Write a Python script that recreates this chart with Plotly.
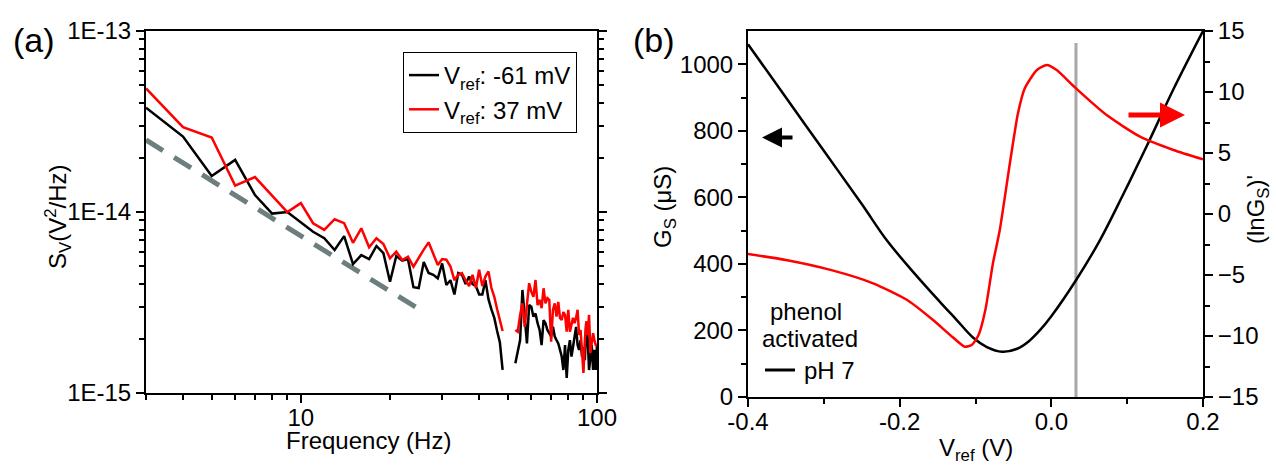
import plotly.graph_objects as go

# ---------------- data: panel (a) noise spectra ----------------
freq_low = list(range(3, 49))
freq_high = list(range(53, 101))

black_low = [3.77e-14, 2.61e-14, 1.58e-14, 1.94e-14, 1.24e-14, 9.8e-15, 1.0e-14, 8.8e-15,
             7.78e-15, 7.16e-15, 6.17e-15, 7.36e-15, 5.16e-15, 5.78e-15, 5.49e-15, 6.49e-15,
             5.92e-15, 4.12e-15, 5.71e-15, 5.38e-15, 5.49e-15, 3.84e-15, 3.8e-15, 5.3e-15,
             4.6e-15, 4.5e-15, 4.3e-15, 5.2e-15, 3.95e-15, 4.2e-15, 3.5e-15, 4.6e-15,
             4.5e-15, 4.0e-15, 4.4e-15, 4.0e-15, 3.9e-15, 3.5e-15, 3.5e-15, 4.2e-15,
             3.3e-15, 2.9e-15, 2.6e-15, 2.2e-15, 1.9e-15, 1.34e-15]
red_low = [4.82e-14, 2.94e-14, 2.58e-14, 1.40e-14, 1.56e-14, 1.23e-14, 1.0e-14, 1.12e-14,
           8.67e-15, 7.96e-15, 9.12e-15, 8.67e-15, 6.76e-15, 8.13e-15, 6.38e-15, 7.16e-15,
           6.65e-15, 5.55e-15, 6.04e-15, 5.43e-15, 5.66e-15, 4.99e-15, 5.6e-15, 6.2e-15,
           6.8e-15, 5.9e-15, 5.1e-15, 5.5e-15, 5.45e-15, 5.0e-15, 4.2e-15, 4.5e-15,
           4.6e-15, 4.2e-15, 3.9e-15, 4.5e-15, 3.8e-15, 4.8e-15, 3.9e-15, 4.4e-15,
           4.7e-15, 3.8e-15, 3.4e-15, 2.9e-15, 2.5e-15, 2.2e-15]
black_high = [1.46e-15, 1.73e-15, 1.96e-15, 3.71e-15, 2.53e-15, 1.88e-15, 3.06e-15, 3.00e-15,
              2.64e-15, 2.75e-15, 2.43e-15, 2.23e-15, 1.84e-15, 2.53e-15, 2.43e-15, 2.23e-15,
              2.14e-15, 2.05e-15, 2.32e-15, 2.05e-15, 1.96e-15, 1.88e-15, 1.73e-15, 1.59e-15,
              1.34e-15, 1.84e-15, 1.21e-15, 1.73e-15, 1.96e-15, 1.59e-15, 1.80e-15, 2.05e-15,
              2.32e-15, 1.84e-15, 1.73e-15, 1.96e-15, 1.59e-15, 1.80e-15, 1.52e-15, 2.48e-15,
              2.00e-15, 1.34e-15, 1.60e-15, 1.84e-15, 1.34e-15, 1.73e-15, 1.34e-15, 1.84e-15]
red_high = [2.23e-15, 2.18e-15, 2.70e-15, 3.13e-15, 2.32e-15, 3.06e-15, 4.04e-15, 3.63e-15,
            3.40e-15, 4.21e-15, 3.06e-15, 3.27e-15, 2.94e-15, 3.79e-15, 3.13e-15, 3.34e-15,
            3.27e-15, 1.92e-15, 2.88e-15, 3.13e-15, 2.64e-15, 3.19e-15, 2.60e-15, 2.53e-15,
            2.80e-15, 2.70e-15, 2.18e-15, 2.88e-15, 2.18e-15, 2.38e-15, 2.60e-15, 2.43e-15,
            2.60e-15, 2.88e-15, 2.09e-15, 2.23e-15, 1.73e-15, 1.29e-15, 1.96e-15, 2.48e-15,
            2.09e-15, 2.70e-15, 1.66e-15, 1.96e-15, 2.14e-15, 1.96e-15, 1.84e-15, 1.84e-15]

fit_freq = [3, 26]
fit_val = [2.5e-14, 2.8e-15]

legend_names = ["V<sub>ref</sub>: -61 mV", "V<sub>ref</sub>: 37 mV"]

# ---------------- data: panel (b) transfer curve ----------------
v_g = [-0.40, -0.35, -0.30, -0.25, -0.217, -0.18, -0.147, -0.125, -0.103, -0.085, -0.065,
       -0.045, -0.03, -0.015, 0.0, 0.0325, 0.064, 0.095, 0.126, 0.161, 0.20]
g_s = [1060, 900, 740, 580, 471, 370, 286, 232, 178, 150, 136,
       145, 167, 201, 243, 351, 471, 610, 755, 925, 1100]

v_r = [-0.40, -0.35, -0.29, -0.235, -0.19, -0.156, -0.13, -0.114, -0.105, -0.096,
       -0.087, -0.077, -0.068, -0.054, -0.044, -0.035, -0.019, -0.006, 0.007, 0.0325,
       0.073, 0.117, 0.161, 0.20]
dlng = [-3.28, -3.77, -4.6, -5.68, -7.05, -8.69, -10.1, -10.88, -10.74, -9.92,
        -7.87, -4.04, -1.31, 4.43, 8.25, 10.3, 11.8, 12.21, 11.8, 10.3,
        8.11, 6.34, 5.25, 4.48]

v_mark = 0.0325

W, H = 1276, 469
FONT = "Arial, 'Liberation Sans', sans-serif"


def px(x):
    return x / W


def py(y):
    return 1 - y / H


freq_all = freq_low + [None] + freq_high
black_all = black_low + [None] + black_high
red_all = red_low + [None] + red_high

fig = go.Figure()

fig.add_trace(go.Scatter(x=fit_freq, y=fit_val, mode="lines", showlegend=False,
                         line=dict(color="#6d7e7e", width=5, dash="20px,13px"),
                         xaxis="x", yaxis="y"))
fig.add_trace(go.Scatter(x=freq_all, y=black_all, mode="lines", name=legend_names[0],
                         line=dict(color="black", width=2.5), connectgaps=False,
                         xaxis="x", yaxis="y"))
fig.add_trace(go.Scatter(x=freq_all, y=red_all, mode="lines", name=legend_names[1],
                         line=dict(color="#ff0000", width=2.5), connectgaps=False,
                         xaxis="x", yaxis="y"))

fig.add_trace(go.Scatter(x=v_g, y=g_s, mode="lines", showlegend=False,
                         line=dict(color="black", width=2.5, shape="spline", smoothing=1.0),
                         xaxis="x2", yaxis="y2"))
fig.add_trace(go.Scatter(x=v_r, y=dlng, mode="lines", showlegend=False,
                         line=dict(color="#ff0000", width=2.5, shape="spline", smoothing=0.6),
                         xaxis="x2", yaxis="y3"))

tickfont = dict(family=FONT, size=24, color="black")
common = dict(showgrid=False, zeroline=False, showline=True, linecolor="black", linewidth=2,
              ticks="outside", tickwidth=2, tickcolor="black", ticklen=8, tickfont=tickfont,
              automargin=False)

minor_y_a = [m * 10.0 ** e for e in (-15, -14) for m in range(2, 10)]
minor_x_a = [3, 4, 5, 6, 7, 8, 9, 20, 30, 40, 50, 60, 70, 80, 90]

fig.update_layout(
    width=W, height=H, margin=dict(l=0, r=0, t=0, b=0, autoexpand=False), autosize=False,
    paper_bgcolor="white", plot_bgcolor="white",
    font=dict(family=FONT, size=24, color="black"),
    xaxis=dict(domain=[px(146), px(597)], anchor="y", type="log",
               range=[0.4771, 2], tickmode="array", tickvals=[10, 100], ticktext=["10", "100"],
               mirror=True, ticklabelstandoff=-6,
               minor=dict(tickmode="array", tickvals=minor_x_a, ticks="outside", ticklen=5,
                          tickwidth=2, tickcolor="black"),
               **common),
    yaxis=dict(domain=[py(393), py(31)], anchor="x", type="log",
               range=[-15, -13], tickmode="array", tickvals=[1e-15, 1e-14, 1e-13],
               ticktext=["1E-15", "1E-14", "1E-13"], mirror="ticks",
               minor=dict(tickmode="array", tickvals=minor_y_a, ticks="outside", ticklen=5,
                          tickwidth=2, tickcolor="black"),
               **common),
    xaxis2=dict(domain=[px(748), px(1203)], anchor="y2", range=[-0.4, 0.2],
                tickmode="array", tickvals=[-0.4, -0.2, 0.0, 0.2],
                ticktext=["-0.4", "-0.2", "0.0", "0.2"], mirror=True, ticklabelstandoff=-6,
                minor=dict(tickmode="array", tickvals=[-0.3, -0.1, 0.1], ticks="outside",
                           ticklen=5, tickwidth=2, tickcolor="black"),
                **common),
    yaxis2=dict(domain=[py(397), py(31)], anchor="x2", range=[0, 1100],
                tickmode="array", tickvals=[0, 200, 400, 600, 800, 1000], mirror=True,
                minor=dict(tickmode="array", tickvals=[100, 300, 500, 700, 900], ticks="outside",
                           ticklen=5, tickwidth=2, tickcolor="black"),
                **common),
    yaxis3=dict(domain=[py(397), py(31)], anchor="x2", overlaying="y2", side="right",
                range=[-15, 15], tickmode="array", tickvals=[-15, -10, -5, 0, 5, 10, 15],
                minor=dict(tickmode="array", tickvals=[-12.5, -7.5, -2.5, 2.5, 7.5, 12.5],
                           ticks="outside", ticklen=5, tickwidth=2, tickcolor="black"),
                **common),
    legend=dict(x=px(403), y=py(52), xanchor="left", yanchor="top",
                bgcolor="white", bordercolor="black", borderwidth=1,
                font=dict(family=FONT, size=24, color="black"),
                tracegroupgap=0),
)

# gray marker line at the reference voltage
fig.add_shape(type="line", xref="x2", yref="y2", x0=v_mark, x1=v_mark, y0=0, y1=1064,
              line=dict(color="#a8a8a8", width=3), layer="below")

# pseudo legend in panel (b)
fig.add_shape(type="line", xref="paper", yref="paper", x0=px(765), x1=px(795),
              y0=py(370), y1=py(370), line=dict(color="black", width=3))

ann = []


def text(x, y, s, size=24, angle=0, xanchor="center"):
    ann.append(dict(x=px(x), y=py(y), xref="paper", yref="paper", text=s, showarrow=False,
                    textangle=angle, xanchor=xanchor, yanchor="middle",
                    font=dict(family=FONT, size=size, color="black")))


text(34, 40, "(a)", size=34)
text(654, 40, "(b)", size=34)
text(58, 217, "S<sub>V</sub>(V<sup>2</sup>/Hz)", angle=-90)
text(368, 440, "Frequency (Hz)")
text(664, 207, "G<sub>S</sub> (μS)", angle=-90)
text(1258, 210, "(lnG<sub>S</sub>)'", angle=-90)
text(976, 449, "V<sub>ref</sub> (V)")
text(806, 311, "phenol")
text(810, 338, "activated")
text(802, 370, "pH 7", xanchor="left")

# direction arrows
ann.append(dict(x=-0.4 + (762 - 748) / 455 * 0.6, y=(397 - 137) / 0.3333, xref="x2", yref="y2",
                ax=32, ay=0, text="", showarrow=True, arrowhead=2, arrowsize=1,
                arrowwidth=4, arrowcolor="black"))
ann.append(dict(x=-0.4 + (1185 - 748) / 455 * 0.6, y=15 - (115 - 31) / 12.2, xref="x2", yref="y3",
                ax=-58, ay=0, text="", showarrow=True, arrowhead=2, arrowsize=1,
                arrowwidth=5, arrowcolor="#ff0000"))

fig.update_layout(annotations=ann)

fig.write_html("out.html", config={"displayModeBar": False},
               post_script="document.body.style.margin='0px';"
                           "document.body.style.overflow='hidden';")
